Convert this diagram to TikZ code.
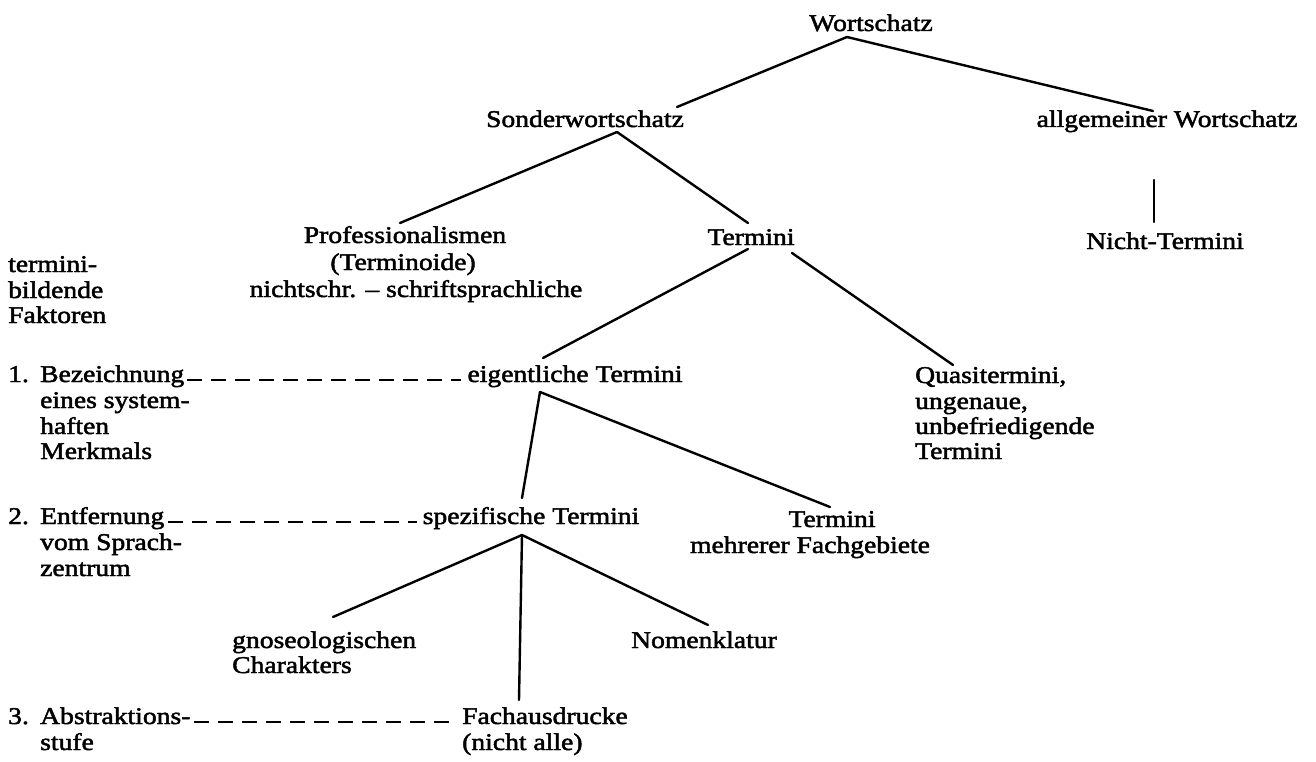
\documentclass[tikz,border=0pt]{standalone}
\usepackage{fontspec}
\setmainfont[FakeStretch=1.15,FakeBold=2]{Liberation Serif}
\usetikzlibrary{calc}

\tikzset{
  lbl/.style={inner sep=0pt, font=\fontsize{24}{26}\selectfont},
  lblc/.style={lbl, anchor=base},
  lblw/.style={lbl, anchor=base west},
  branch/.style={line width=2.4pt, line cap=round},
  level/.style={line width=2.4pt, dash pattern=on 15pt off 9pt},
}
\newcommand{\numlbl}[1]{\makebox[32pt][l]{#1}}

\begin{document}
\begin{tikzpicture}[x=1pt, y=-1pt]
  \path[use as bounding box, fill=white] (0,0) rectangle (1316,762);

  % --- tree nodes ---
  \node[lblc] (W)  at (871,31)   {Wortschatz};
  \node[lblc] (SW) at (585,127)  {Sonderwortschatz};
  \node[lblc] (AW) at (1167,127) {allgemeiner Wortschatz};
  \node[lblc] (P1) at (405,243)  {Professionalismen};
  \node[lblc] (P2) at (403,270)  {(Terminoide)};
  \node[lblc] (P3) at (416,297)  {nichtschr. – schriftsprachliche};
  \node[lblc] (T)  at (751,245)  {Termini};
  \node[lblc] (NT) at (1165,249) {Nicht-Termini};
  \node[lblc] (E)  at (575,382)  {eigentliche Termini};
  \node[lblw] (Q1) at (915,383)  {Quasitermini,};
  \node[lblw] (Q2) at (915,409)  {ungenaue,};
  \node[lblw] (Q3) at (915,434)  {unbefriedigende};
  \node[lblw] (Q4) at (915,459)  {Termini};
  \node[lblc] (S)  at (531,524)  {spezifische Termini};
  \node[lblc] (TM) at (832,527)  {Termini};
  \node[lblc] (TM2) at (810,553) {mehrerer Fachgebiete};
  \node[lblw] (G1) at (232,648)  {gnoseologischen};
  \node[lblw] (G2) at (232,673)  {Charakters};
  \node[lblc] (N)  at (704,648)  {Nomenklatur};
  \node[lblw] (F1) at (462,724)  {Fachausdrucke};
  \node[lblw] (F2) at (462,750)  {(nicht alle)};

  % --- term-forming factors (left column) ---
  \node[lblw] (K1) at (8,272) {termini-};
  \node[lblw] (K2) at (8,298) {bildende};
  \node[lblw] (K3) at (8,323) {Faktoren};

  \node[lblw] (L1)  at (8,382)  {\numlbl{1.}Bezeichnung};
  \node[lblw] (L1b) at (40,408) {eines system-};
  \node[lblw] (L1c) at (40,434) {haften};
  \node[lblw] (L1d) at (40,459) {Merkmals};

  \node[lblw] (L2)  at (8,524)  {\numlbl{2.}Entfernung};
  \node[lblw] (L2b) at (40,550) {vom Sprach-};
  \node[lblw] (L2c) at (40,576) {zentrum};

  \node[lblw] (L3)  at (8,724)  {\numlbl{3.}Abstraktions-};
  \node[lblw] (L3b) at (40,750) {stufe};

  % --- branches ---
  \draw[branch] ($(W.base)+(-24,6)$) -- ($(SW.base)+(92,-20)$);
  \draw[branch] ($(W.base)+(-24,6)$) -- ($(AW.base)+(-14,-16)$);
  \draw[branch] ($(AW.base)+(-13,53)$) -- ($(NT.base)+(-11,-27)$);
  \draw[branch] ($(SW.base)+(32,5)$) -- ($(P1.base)+(-5,-20)$);
  \draw[branch] ($(SW.base)+(32,5)$) -- ($(T.base)+(-3,-22)$);
  \draw[branch] ($(T.base)+(-3,4)$) -- ($(E.base)+(-32,-24)$);
  \draw[branch] ($(T.base)+(41,8)$) -- ($(Q1.base west)+(38,-18)$);
  \draw[branch] ($(E.base)+(-35,10)$) -- ($(S.base)+(-9,-26)$);
  \draw[branch] ($(E.base)+(-35,10)$) -- ($(TM.base)+(-2,-20)$);
  \draw[branch] ($(S.base)+(-9,11)$) -- ($(G1.base west)+(101,-31)$);
  \draw[branch] ($(S.base)+(-9,11)$) -- ($(N.base)+(4,-23)$);
  \draw[branch] ($(S.base)+(-9,11)$) -- ($(F1.base west)+(57,-24)$);

  % --- dashed level links ---
  \draw[level] ([xshift=3pt]L1.mid east) -- ([xshift=-6pt]E.mid west);
  \draw[level] ([xshift=3pt]L2.mid east) -- ([xshift=-6pt]S.mid west);
  \draw[level] ([xshift=3pt]L3.mid east) -- ([xshift=-6pt]F1.mid west);
\end{tikzpicture}
\end{document}
